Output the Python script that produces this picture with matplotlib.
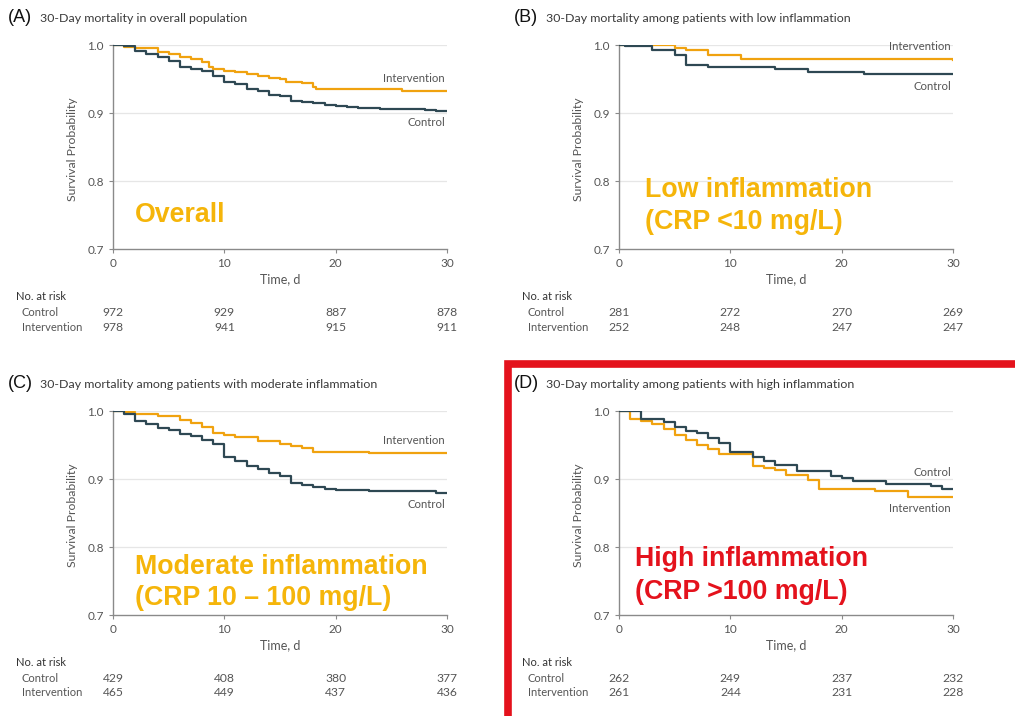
import matplotlib
matplotlib.use("Agg")
import matplotlib.pyplot as plt
from matplotlib.patches import Rectangle

# ========================= data ==============================================

# (A) overall population
a_ctrl_t = [0, 1, 2, 3, 4, 5, 6, 7, 8, 9, 10, 11, 12, 13, 14, 15, 16, 17, 18, 19, 20, 21, 22, 24, 28, 29, 30]
a_ctrl_s = [1.0, 0.998, 0.991, 0.987, 0.982, 0.977, 0.968, 0.965, 0.962, 0.955, 0.945, 0.942, 0.935, 0.932,
            0.927, 0.925, 0.918, 0.916, 0.915, 0.912, 0.910, 0.909, 0.907, 0.906, 0.905, 0.903, 0.903]
a_int_t = [0, 1, 2, 4, 5, 6, 7, 8, 8.6, 9, 10, 11, 12, 13, 14, 15, 15.5, 17, 18, 18.2, 23, 26, 30]
a_int_s = [1.0, 0.997, 0.995, 0.990, 0.987, 0.983, 0.980, 0.975, 0.968, 0.965, 0.962, 0.960, 0.958, 0.954,
           0.951, 0.950, 0.946, 0.944, 0.938, 0.936, 0.935, 0.932, 0.932]

# (B) low inflammation
b_ctrl_t = [0, 0.5, 3, 5, 6, 8, 14, 17, 22, 30]
b_ctrl_s = [1.0, 0.998, 0.993, 0.985, 0.971, 0.968, 0.964, 0.961, 0.957, 0.957]
b_int_t = [0, 5, 6, 8, 11, 30]
b_int_s = [1.0, 0.996, 0.993, 0.985, 0.979, 0.978]

# (C) moderate inflammation
c_ctrl_t = [0, 1, 2, 3, 4, 5, 6, 7, 8, 9, 10, 11, 12, 13, 14, 15, 16, 17, 18, 19, 20, 23, 29, 30]
c_ctrl_s = [1.0, 0.996, 0.986, 0.981, 0.975, 0.972, 0.966, 0.963, 0.958, 0.951, 0.933, 0.927, 0.919, 0.914,
            0.909, 0.905, 0.894, 0.891, 0.888, 0.886, 0.884, 0.882, 0.880, 0.880]
c_int_t = [0, 1, 2, 4, 6, 7, 8, 9, 10, 11, 13, 15, 16, 17, 18, 23, 30]
c_int_s = [1.0, 0.998, 0.996, 0.992, 0.987, 0.983, 0.977, 0.968, 0.964, 0.962, 0.956, 0.952, 0.949, 0.945,
           0.940, 0.938, 0.938]

# (D) high inflammation
d_ctrl_t = [0, 2, 4, 5, 6, 7, 8, 9, 10, 12, 13, 14, 16, 19, 20, 21, 24, 28, 29, 30]
d_ctrl_s = [1.0, 0.988, 0.984, 0.977, 0.971, 0.967, 0.961, 0.953, 0.939, 0.932, 0.927, 0.920, 0.912, 0.905,
            0.901, 0.897, 0.893, 0.890, 0.885, 0.885]
d_int_t = [0, 1, 2, 3, 4, 5, 6, 7, 8, 9, 12, 13, 14, 15, 17, 18, 23, 26, 30]
d_int_s = [1.0, 0.988, 0.985, 0.981, 0.973, 0.965, 0.957, 0.950, 0.944, 0.937, 0.919, 0.916, 0.913, 0.906,
           0.899, 0.886, 0.882, 0.873, 0.873]

risk_ticks = [0, 10, 20, 30]
a_risk_ctrl = [972, 929, 887, 878]
a_risk_int = [978, 941, 915, 911]
b_risk_ctrl = [281, 272, 270, 269]
b_risk_int = [252, 248, 247, 247]
c_risk_ctrl = [429, 408, 380, 377]
c_risk_int = [465, 449, 437, 436]
d_risk_ctrl = [262, 249, 237, 232]
d_risk_int = [261, 244, 231, 228]

# ========================= style =============================================

W, H = 1015, 716
ORANGE = "#F0A20F"
SLATE = "#2E4853"
HILITE = "#F5B50A"
RED = "#E4121C"
GREY = "#555555"
SMALL = "Lato"


def fx(x):
    return x / W


def fy(y):
    return 1 - y / H


def panel(fig, x0, y0, letter, title, ctrl, intv, lab_ctrl_y, lab_int_y,
          big_x, big_lines, big_color, risk_ctrl, risk_int):
    # axes box in pixel coords: x0..x0+334, y0..y0+204
    ax = fig.add_axes([fx(x0), fy(y0 + 204), 334 / W, 204 / H])
    ax.step(intv[0], intv[1], where="post", color=ORANGE, lw=1.6, zorder=3)
    ax.step(ctrl[0], ctrl[1], where="post", color=SLATE, lw=1.6, zorder=3)

    ax.set_xlim(0, 30)
    ax.set_ylim(0.7, 1.0)
    ax.set_xticks(risk_ticks)
    ax.set_yticks([0.7, 0.8, 0.9, 1.0])
    ax.set_yticklabels(["0.7", "0.8", "0.9", "1.0"])
    for y in [0.8, 0.9, 1.0]:
        ax.axhline(y, color="#e6e6e6", lw=0.9, zorder=1)
    for s in ["top", "right"]:
        ax.spines[s].set_visible(False)
    for s in ["left", "bottom"]:
        ax.spines[s].set_color("#8a8a8a")
        ax.spines[s].set_linewidth(1.0)
    ax.tick_params(colors="#8a8a8a", labelcolor=GREY, labelsize=8.5, length=3, width=0.8)
    for lab in ax.get_xticklabels() + ax.get_yticklabels():
        lab.set_fontfamily(SMALL)
    ax.patch.set_alpha(0)

    # headers
    fig.text(fx(x0 - 105), fy(y0 - 27), letter, fontsize=13, family="Liberation Sans",
             va="center", ha="left", color="#111111")
    fig.text(fx(x0 - 73), fy(y0 - 27), title, fontsize=8.9, family=SMALL,
             va="center", ha="left", color="#3a3a3a")
    fig.text(fx(x0 - 40), fy(y0 + 104), "Survival Probability", fontsize=8.8, family=SMALL,
             rotation=90, va="center", ha="center", color=GREY)
    fig.text(fx(x0 + 167), fy(y0 + 234), "Time, d", fontsize=9, family=SMALL,
             va="center", ha="center", color=GREY)

    # curve labels
    fig.text(fx(x0 + 332), fy(lab_int_y), "Intervention", fontsize=8.2, family=SMALL,
             va="center", ha="right", color=GREY)
    fig.text(fx(x0 + 332), fy(lab_ctrl_y), "Control", fontsize=8.2, family=SMALL,
             va="center", ha="right", color=GREY)

    # big overlay text
    for line in big_lines:
        fig.text(fx(big_x), fy(big_lines[line]), line, fontsize=19.3, fontweight="bold",
                 family="Liberation Sans", va="center", ha="left", color=big_color)

    # number at risk table
    fig.text(fx(x0 - 97), fy(y0 + 251), "No. at risk", fontsize=8, family=SMALL,
             va="center", ha="left", color="#333333")
    fig.text(fx(x0 - 91), fy(y0 + 267), "Control", fontsize=8, family=SMALL,
             va="center", ha="left", color=GREY)
    fig.text(fx(x0 - 91), fy(y0 + 282), "Intervention", fontsize=8, family=SMALL,
             va="center", ha="left", color=GREY)
    for t, c, n in zip(risk_ticks, risk_ctrl, risk_int):
        xp = x0 + t / 30 * 334
        fig.text(fx(xp), fy(y0 + 267), str(c), fontsize=8.7, family=SMALL,
                 va="center", ha="center", color=GREY)
        fig.text(fx(xp), fy(y0 + 282), str(n), fontsize=8.7, family=SMALL,
                 va="center", ha="center", color=GREY)
    return ax


# ========================= plot ==============================================

fig = plt.figure(figsize=(W / 100, H / 100), dpi=100)

panel(fig, 113, 45, "(A)", "30-Day mortality in overall population",
      (a_ctrl_t, a_ctrl_s), (a_int_t, a_int_s), 123, 78,
      135, {"Overall": 215}, HILITE, a_risk_ctrl, a_risk_int)

panel(fig, 619, 45, "(B)", "30-Day mortality among patients with low inflammation",
      (b_ctrl_t, b_ctrl_s), (b_int_t, b_int_s), 86, 47,
      645, {"Low inflammation": 190, "(CRP <10 mg/L)": 222}, HILITE, b_risk_ctrl, b_risk_int)

panel(fig, 113, 411, "(C)", "30-Day mortality among patients with moderate inflammation",
      (c_ctrl_t, c_ctrl_s), (c_int_t, c_int_s), 504, 441,
      135, {"Moderate inflammation": 567, "(CRP 10 \u2013 100 mg/L)": 598}, HILITE,
      c_risk_ctrl, c_risk_int)

panel(fig, 619, 411, "(D)", "30-Day mortality among patients with high inflammation",
      (d_ctrl_t, d_ctrl_s), (d_int_t, d_int_s), 472, 509,
      635, {"High inflammation": 559, "(CRP >100 mg/L)": 592}, RED, d_risk_ctrl, d_risk_int)

# red highlight frame around panel D
fig.patches.append(Rectangle((fx(508), fy(H + 10)), (W - 508 + 10) / W, (H + 10 - 364) / H,
                             transform=fig.transFigure, fill=False, edgecolor=RED,
                             linewidth=5.5, zorder=10))

plt.savefig("out.png", dpi=100)
